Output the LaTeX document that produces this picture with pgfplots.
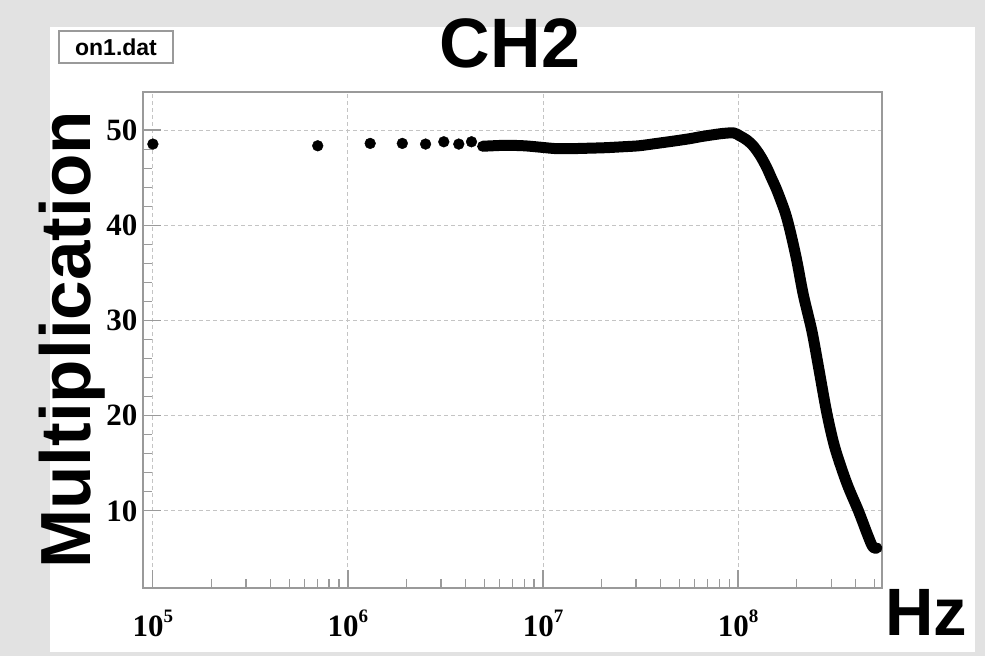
\documentclass[border=0pt]{standalone}
\usepackage{pgfplots}
\pgfplotsset{compat=1.18}
\usepackage{fontspec}
\setmainfont{Liberation Serif}
\newfontfamily\sansf{Liberation Sans}
\definecolor{bggray}{HTML}{E2E2E2}
\definecolor{axgray}{HTML}{9A9A9A}
\definecolor{gridgray}{HTML}{C4C4C4}
\newcommand\ep[1]{10\raisebox{14pt}{\fontsize{19}{19}\selectfont #1}}
\begin{document}
\begin{tikzpicture}[x=1pt,y=1pt]
\useasboundingbox (0,0) rectangle (985,656);
\fill[bggray] (0,0) rectangle (985,656);
\fill[white] (50,4) rectangle (975,629);
\begin{axis}[
  at={(143pt,68pt)}, anchor=south west,
  scale only axis, width=739pt, height=496pt,
  xmode=log, xmin=8.9e4, xmax=5.47e8, ymin=1.9, ymax=54,
  xtick={1e5,1e6,1e7,1e8},
  xticklabels={\ep{5},\ep{6},\ep{7},\ep{8}},
  minor xtick={2e5,3e5,4e5,5e5,6e5,7e5,8e5,9e5,2e6,3e6,4e6,5e6,6e6,7e6,8e6,9e6,2e7,3e7,4e7,5e7,6e7,7e7,8e7,9e7,2e8,3e8,4e8,5e8},
  ytick={10,20,30,40,50},
  yticklabels={10,20,30,40,50},
  minor y tick num=4,
  tick pos=left,
  tick align=inside,
  major tick length=18pt, minor tick length=9pt,
  axis line style={axgray, line width=1.6pt},
  every tick/.style={axgray, line width=1.2pt},
  grid=major,
  major grid style={gridgray, dash pattern=on 4pt off 3pt, line width=1pt},
  tick label style={font=\fontsize{31}{31}\selectfont\bfseries},
  xticklabel style={anchor=base, yshift=-48pt},
  yticklabel style={anchor=east, xshift=-2pt},
]
\addplot[only marks, mark=*, mark size=5.4pt, black] coordinates {
(1e5,48.53) (7e5,48.35) (1.3e6,48.6) (1.9e6,48.6) (2.5e6,48.53) (3.1e6,48.77) (3.7e6,48.53) (4.3e6,48.77)};
\addplot[black, line width=11pt, line join=round, line cap=round, mark=none, smooth, tension=0.5] coordinates {
(4.9e6,48.3) (5.5e6,48.35) (6.5e6,48.4) (8e6,48.35) (9.7e6,48.2) (1.17e7,48.05) (1.4e7,48.05)
(1.74e7,48.1) (2.1e7,48.15) (2.58e7,48.25) (3.1e7,48.35) (3.83e7,48.6) (4.7e7,48.85) (5.67e7,49.1)
(6.4e7,49.3) (7.4e7,49.5) (8.4e7,49.65) (9.5e7,49.7) (1.02e8,49.4) (1.11e8,48.95) (1.2e8,48.3)
(1.30e8,47.3) (1.40e8,46.1) (1.48e8,45.0) (1.58e8,43.7) (1.74e8,41.4) (1.85e8,39.4) (2.0e8,36.3)
(2.16e8,32.7) (2.39e8,28.9) (2.58e8,25.2) (2.85e8,20.3) (3.14e8,16.6) (3.61e8,12.9)
(4.14e8,10.0) (4.57e8,7.7) (4.85e8,6.4) (5.0e8,6.1) (5.15e8,6.1)};
\end{axis}
\draw[axgray, line width=1.5pt] (59,593) rectangle (173,625);
\node[anchor=base, inner sep=0, font=\sansf\bfseries\fontsize{23}{23}\selectfont] at (116,600) {on1.dat};
\node[anchor=base, inner sep=0, font=\sansf\bfseries\fontsize{70}{70}\selectfont] at (510,588) {CH2};
\node[anchor=base west, inner sep=0, font=\sansf\bfseries\fontsize{67}{67}\selectfont] at (885,21) {Hz};
\node[rotate=90, anchor=base, inner sep=0, font=\sansf\bfseries\fontsize{71}{71}\selectfont] at (90,316) {Multiplication};
\end{tikzpicture}
\end{document}
